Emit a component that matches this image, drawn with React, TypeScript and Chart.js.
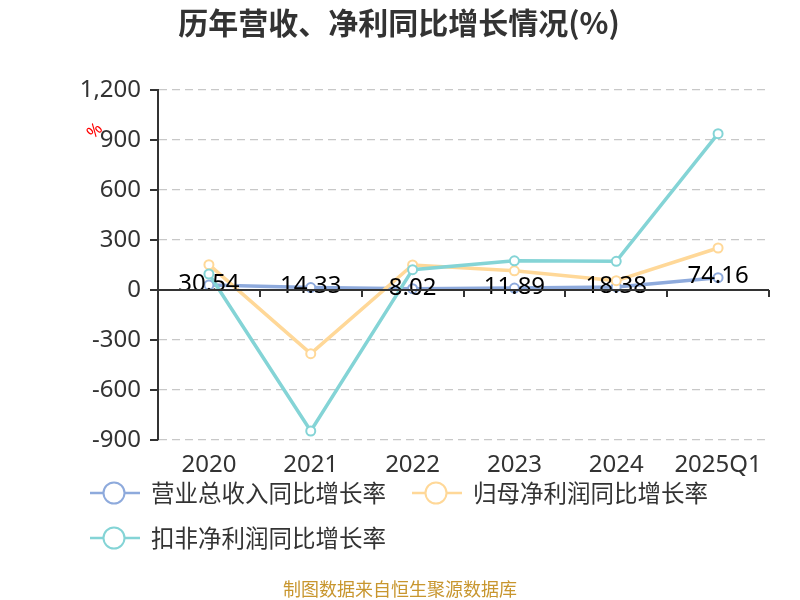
import React, { useEffect, useRef } from "react";
import { Chart, registerables } from "chart.js";

Chart.register(...registerables);

const categories = ["2020", "2021", "2022", "2023", "2024", "2025Q1"];
const revenueGrowth = [30.54, 14.33, 8.02, 11.89, 18.38, 74.16];
const netProfitGrowth = [152, -382, 150, 115, 56, 252];
const deductedProfitGrowth = [96, -846, 122, 175, 172, 938];
const seriesNames = ["营业总收入同比增长率", "归母净利润同比增长率", "扣非净利润同比增长率"];
const seriesColors = ["#8eaadc", "#ffd898", "#84d4d6"];
const yTicks = [-900, -600, -300, 0, 300, 600, 900, 1200];

const CJK = '"Noto Sans CJK SC", "Noto Sans", sans-serif';
const NUM = '"Noto Sans", "Noto Sans CJK SC", sans-serif';

export default function App() {
  const ref = useRef<HTMLCanvasElement | null>(null);

  useEffect(() => {
    document.body.style.margin = "0";
    const canvas = ref.current!;
    const overlay = {
      id: "overlay",
      afterDatasetsDraw(chart: any) {
        const ctx = chart.ctx;
        const meta = chart.getDatasetMeta(0);
        ctx.save();
        ctx.font = `24px ${NUM}`;
        ctx.fillStyle = "#000";
        ctx.textAlign = "center";
        ctx.textBaseline = "middle";
        meta.data.forEach((pt: any, i: number) => {
          ctx.fillText(String(revenueGrowth[i].toFixed(2)), pt.x, pt.y - 1);
        });
        ctx.restore();
      },
      afterDraw(chart: any) {
        const ctx = chart.ctx;
        const area = chart.chartArea;
        const y = chart.scales.y;
        ctx.save();
        const y0 = y.getPixelForValue(0);
        ctx.strokeStyle = "#333";
        ctx.lineWidth = 2;
        ctx.beginPath();
        ctx.moveTo(area.left, y0);
        ctx.lineTo(area.right, y0);
        const band = (area.right - area.left) / categories.length;
        for (let i = 0; i <= categories.length; i++) {
          const px = Math.round(area.left + band * i);
          ctx.moveTo(px, y0);
          ctx.lineTo(px, y0 + 7);
        }
        yTicks.forEach((v) => {
          const py = y.getPixelForValue(v);
          ctx.moveTo(area.left - 8, py);
          ctx.lineTo(area.left, py);
        });
        ctx.stroke();

        ctx.save();
        ctx.translate(95, 131);
        ctx.rotate(-Math.PI / 4);
        ctx.fillStyle = "#ff0000";
        ctx.font = `17px ${NUM}`;
        ctx.textAlign = "center";
        ctx.textBaseline = "middle";
        ctx.fillText("%", 0, 0);
        ctx.restore();

        ctx.fillStyle = "#333";
        ctx.font = `bold 30px ${CJK}`;
        ctx.textAlign = "center";
        ctx.textBaseline = "middle";
        ctx.fillText("历年营收、净利同比增长情况(%)", 399, 23);

        const items = [
          { lx: 90, cx: 114, tx: 151, ty: 493 },
          { lx: 412, cx: 436, tx: 473, ty: 493 },
          { lx: 90, cx: 114, tx: 151, ty: 538 },
        ];
        items.forEach((it, i) => {
          ctx.strokeStyle = seriesColors[i];
          ctx.lineWidth = 2.5;
          ctx.beginPath();
          ctx.moveTo(it.lx, it.ty);
          ctx.lineTo(it.lx + 50, it.ty);
          ctx.stroke();
          ctx.beginPath();
          ctx.arc(it.cx, it.ty, 10.5, 0, Math.PI * 2);
          ctx.fillStyle = "#fff";
          ctx.fill();
          ctx.lineWidth = 2;
          ctx.stroke();
          ctx.fillStyle = "#333";
          ctx.font = `23.5px ${CJK}`;
          ctx.textAlign = "left";
          ctx.textBaseline = "middle";
          ctx.fillText(seriesNames[i], it.tx, it.ty);
        });

        ctx.fillStyle = "#c8962e";
        ctx.font = `18px ${CJK}`;
        ctx.textAlign = "center";
        ctx.textBaseline = "middle";
        ctx.fillText("制图数据来自恒生聚源数据库", 400, 589);
        ctx.restore();
      },
    };

    const mk = (label: string, data: number[], color: string, order: number) => ({
      label,
      data,
      borderColor: color,
      backgroundColor: "#fff",
      borderWidth: 3.5,
      pointRadius: 4.5,
      pointBorderWidth: 2,
      pointBackgroundColor: "#fff",
      pointBorderColor: color,
      tension: 0,
      order,
    });

    const chart = new Chart(canvas, {
      type: "line",
      data: {
        labels: categories,
        datasets: [
          mk(seriesNames[0], revenueGrowth, seriesColors[0], 3),
          mk(seriesNames[1], netProfitGrowth, seriesColors[1], 2),
          mk(seriesNames[2], deductedProfitGrowth, seriesColors[2], 1),
        ],
      },
      options: {
        responsive: false,
        animation: false,
        layout: { padding: { top: 90, left: 0, right: 31, bottom: 110 } },
        plugins: { legend: { display: false }, title: { display: false }, tooltip: { enabled: false } },
        scales: {
          x: {
            type: "category",
            offset: true,
            grid: { display: false, drawTicks: false },
            border: { display: false },
            ticks: {
              color: "#333",
              font: { size: 24, family: NUM },
              padding: 11,
              maxRotation: 0,
              autoSkip: false,
            },
            afterFit: (s: any) => {
              s.height = 50;
            },
          },
          y: {
            min: -900,
            max: 1200,
            afterBuildTicks: (s: any) => {
              s.ticks = yTicks.map((v) => ({ value: v }));
            },
            grid: {
              drawTicks: false,
              color: (c: any) => (c.tick && c.tick.value === 0 ? "rgba(0,0,0,0)" : "#c8c8c8"),
              lineWidth: 1.2,
            },
            border: { display: true, color: "#333", width: 2, dash: [8, 5] },
            ticks: {
              color: "#333",
              font: { size: 24, family: NUM },
              padding: 17,
              callback: (v: any) => Number(v).toLocaleString("en-US"),
            },
            afterFit: (s: any) => {
              s.width = 158;
            },
          },
        },
      } as any,
      plugins: [overlay],
    });
    return () => chart.destroy();
  }, []);

  return (
    <div style={{ position: "absolute", left: 0, top: 0, width: 800, height: 600 }}>
      <canvas ref={ref} width={800} height={600} />
    </div>
  );
}
